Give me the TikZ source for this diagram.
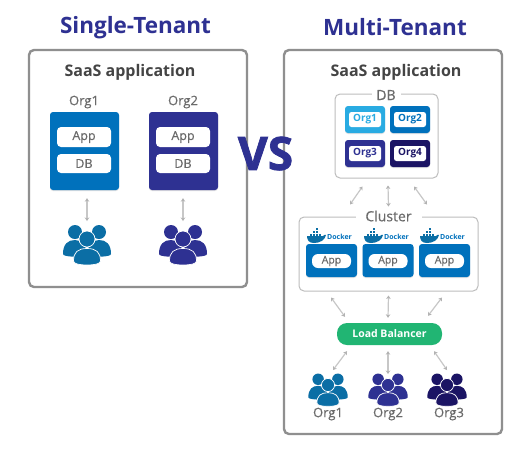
\documentclass[tikz,border=0pt]{standalone}
\usepackage{fontspec}
\setmainfont{Open Sans}
\newfontfamily\heavy[BoldFeatures={FakeBold=1.6}]{Open Sans}
\newfontfamily\semi[UprightFeatures={FakeBold=0.35}]{Open Sans}
\usetikzlibrary{arrows.meta,shadows,calc}
\definecolor{navy}{HTML}{2E3192}
\definecolor{deep}{HTML}{1B1464}
\definecolor{blue}{HTML}{0071BC}
\definecolor{sky}{HTML}{29ABE2}
\definecolor{teal}{HTML}{0B6EA5}
\definecolor{lb}{HTML}{21B573}
\definecolor{frame}{HTML}{8F8F8F}
\definecolor{thin}{HTML}{BDBDBD}
\definecolor{txt}{HTML}{444444}
\definecolor{org}{HTML}{6A6A6A}
\newcommand{\fs}[1]{\fontsize{#1}{#1}\selectfont}
\tikzset{
  x=1pt,y=-1pt,
  soft/.style={drop shadow={shadow xshift=0pt,shadow yshift=-1pt,opacity=.22}},
  outerbox/.style={draw=frame,line width=2.4pt,fill=white,rounded corners=5pt,inner sep=0pt,minimum width=#1},
  tilebox/.style={rounded corners=3pt,inner sep=0pt,soft},
  pill/.style={fill=white,rounded corners=4pt,inner sep=0pt,text=org,font=\semi\fs{12.5}},
  orgpill/.style={fill=white,rounded corners=2.5pt,inner sep=0pt,minimum width=32pt,minimum height=15pt,font=\fs{10}\bfseries},
  thinbox/.style={draw=thin,line width=1pt,rounded corners=5pt,fill=white,inner sep=0pt},
  framelabel/.style={fill=white,inner sep=0pt,text=org,font=\semi\fs{14}},
  orgtext/.style={inner sep=0pt,text=org,font=\semi\fs{13}},
  link/.style={draw=thin!85,line width=1.2pt,{Stealth[length=3.5pt,width=4.5pt,color=gray!60]}-{Stealth[length=3.5pt,width=4.5pt,color=gray!60]}}
}
% people icon: #1 name, #2 x, #3 y (front head centre), #4 scale, #5 colour
\newcommand{\peopleicon}[5]{%
  \begin{scope}[shift={(#2,#3)},scale=#4]
    \coordinate (#1) at (0,0);
    \fill[#5] (-12,-7) circle (7);
    \fill[#5] (12,-7) circle (7);
    \fill[#5] (-24,15) .. controls (-24,5) and (-19,1) .. (-12,1) .. controls (-5,1) and (0,6) .. (0,18) .. controls (-8,18) and (-24,18) .. (-24,15) -- cycle;
    \fill[#5] (24,15) .. controls (24,5) and (19,1) .. (12,1) .. controls (5,1) and (0,6) .. (0,18) .. controls (8,18) and (24,18) .. (24,15) -- cycle;
    \filldraw[fill=#5,draw=white,line width=.7pt] (0,0) circle (8);
    \filldraw[fill=#5,draw=white,line width=.7pt] (-13.5,22) .. controls (-13.5,13) and (-9,9.5) .. (0,9.5) .. controls (9,9.5) and (13.5,13) .. (13.5,22) .. controls (13.5,25) and (7,26) .. (0,26) .. controls (-7,26) and (-13.5,25) .. (-13.5,22) -- cycle;
  \end{scope}}
% docker logo: #1 name, #2 left x, #3 middle y
\newcommand{\dockerlogo}[3]{%
  \begin{scope}[shift={(#2,#3)}]
    \fill[teal] (0,-1) -- (16,-1) .. controls (17,-2) and (18,-2.5) .. (19,-2) .. controls (18,3) and (13,6) .. (7,6) .. controls (2,6) and (0,3) .. (0,-1) -- cycle;
    \foreach \a/\b in {3/-3,6/-3,9/-3,12/-3,6/-6,9/-6,9/-9}{\fill[teal] (\a,\b) rectangle +(2.4,2.4);}
  \end{scope}
  \node[inner sep=0pt,anchor=west,text=blue,font=\fs{7}\bfseries] (#1) at (#2+20,#3) {Docker};}
\begin{document}
\begin{tikzpicture}
\useasboundingbox (0,0) rectangle (524,451);
\fill[white] (0,0) rectangle (524,451);

% titles
\node[inner sep=0pt,text=navy,font=\fs{22.5}\bfseries] (t1) at (135.5,27.5) {Single-Tenant};
\node[inner sep=0pt,text=navy,font=\fs{22.5}\bfseries] (t2) at (395,27.5) {Multi-Tenant};

% outer frames
\node[outerbox=218pt,minimum height=237pt] (left) at (138,168.5) {};
\node[outerbox=218pt,minimum height=384pt] (right) at (393,242) {};

\node[inner sep=0pt,text=txt,font=\fs{16}\bfseries] (s1) at (130,72.5) {SaaS application};
\node[inner sep=0pt,text=txt,font=\fs{16}\bfseries] (s2) at (396,72.5) {SaaS application};

\node[inner sep=0pt,text=navy,font=\heavy\fs{46}\bfseries] (vs) at (265.5,153.5) {VS};

% single-tenant
\node[orgtext] (lo1) at (84,102) {Org1};
\node[orgtext] (lo2) at (183,102) {Org2};
\node[tilebox,fill=blue,minimum width=69pt,minimum height=78pt] (lb1) at (84.5,151) {};
\node[tilebox,fill=navy,minimum width=69pt,minimum height=78pt] (lb2) at (183.5,151) {};
\node[pill,minimum width=54pt,minimum height=20pt] (la1) at (84,137) {App};
\node[pill,minimum width=54pt,minimum height=19pt] (ld1) at (84,163.5) {DB};
\node[pill,minimum width=54pt,minimum height=20pt] (la2) at (183,137) {App};
\node[pill,minimum width=54pt,minimum height=19pt] (ld2) at (183,163.5) {DB};
\peopleicon{pl1}{87}{239}{1}{teal}
\peopleicon{pl2}{183}{239}{1}{navy}
\draw[link] ([shift={(2.5,8)}]lb1.south) -- ([shift={(0,-18)}]pl1);
\draw[link] ([shift={(-.5,8)}]lb2.south) -- ([shift={(0,-18)}]pl2);

% multi-tenant DB
\node[thinbox,minimum width=103pt,minimum height=84pt] (db) at (386.5,136) {};
\node[framelabel,minimum width=29pt,minimum height=12pt] (dbl) at (386,95) {DB};
\foreach \n/\x/\y/\c in {1/365/119.5/sky,2/410/119.5/blue,3/365/153.5/navy,4/410/153.5/deep}{
  \node[tilebox,fill=\c,minimum width=40pt,minimum height=27pt] (dt\n) at (\x,\y) {};
  \node[orgpill,text=\c] (do\n) at (\x,\y) {Org\n};
}

% cluster
\node[thinbox,minimum width=179pt,minimum height=74pt] (cl) at (388.5,254) {};
\node[framelabel,minimum width=66pt,minimum height=14pt] (cll) at (388.5,216) {Cluster};
\foreach \n/\x in {1/331.5,2/388,3/444.5}{
  \node[tilebox,fill=blue,minimum width=51pt,minimum height=33pt] (ab\n) at (\x,260.5) {};
  \node[pill,rounded corners=6pt,minimum width=39pt,minimum height=14pt,font=\semi\fs{10.5}] (ap\n) at (\x,261) {App};
}
\dockerlogo{d1}{307}{237}
\dockerlogo{d2}{364}{237}
\dockerlogo{d3}{420}{237}

% db to cluster arrows
\draw[link] ([shift={(-24,8)}]db.south) -- ([shift={(-38.5,-12)}]cl.north);
\draw[link] ([shift={(1.5,7)}]db.south) -- ([shift={(0,-10)}]cl.north);
\draw[link] ([shift={(27.5,8)}]db.south) -- ([shift={(38.5,-12)}]cl.north);

% load balancer
\node[fill=lb,rounded corners=10pt,inner sep=0pt,minimum width=105pt,minimum height=22pt,text=white,font=\fs{10.5}\bfseries] (lbal) at (389.5,334) {Load Balancer};
\draw[link] ([shift={(-57.5,6)}]cl.south) -- ([shift={(-44.5,-6)}]lbal.north);
\draw[link] ([shift={(0,4)}]cl.south) -- ([shift={(-1.5,-5)}]lbal.north);
\draw[link] ([shift={(53.5,6)}]cl.south) -- ([shift={(38.5,-7)}]lbal.north);

% users
\peopleicon{p1}{328}{385}{.82}{teal}
\peopleicon{p2}{388}{385}{.82}{navy}
\peopleicon{p3}{447}{385}{.82}{deep}
\draw[link] ([shift={(-42.5,6)}]lbal.south) -- ([shift={(5,-15)}]p1);
\draw[link] ([shift={(-1.5,6)}]lbal.south) -- ([shift={(0,-11)}]p2);
\draw[link] ([shift={(44.5,6)}]lbal.south) -- ([shift={(0,-15)}]p3);
\node[orgtext] (o1) at (328,414) {Org1};
\node[orgtext] (o2) at (388,414) {Org2};
\node[orgtext] (o3) at (449,414) {Org3};
\end{tikzpicture}
\end{document}
